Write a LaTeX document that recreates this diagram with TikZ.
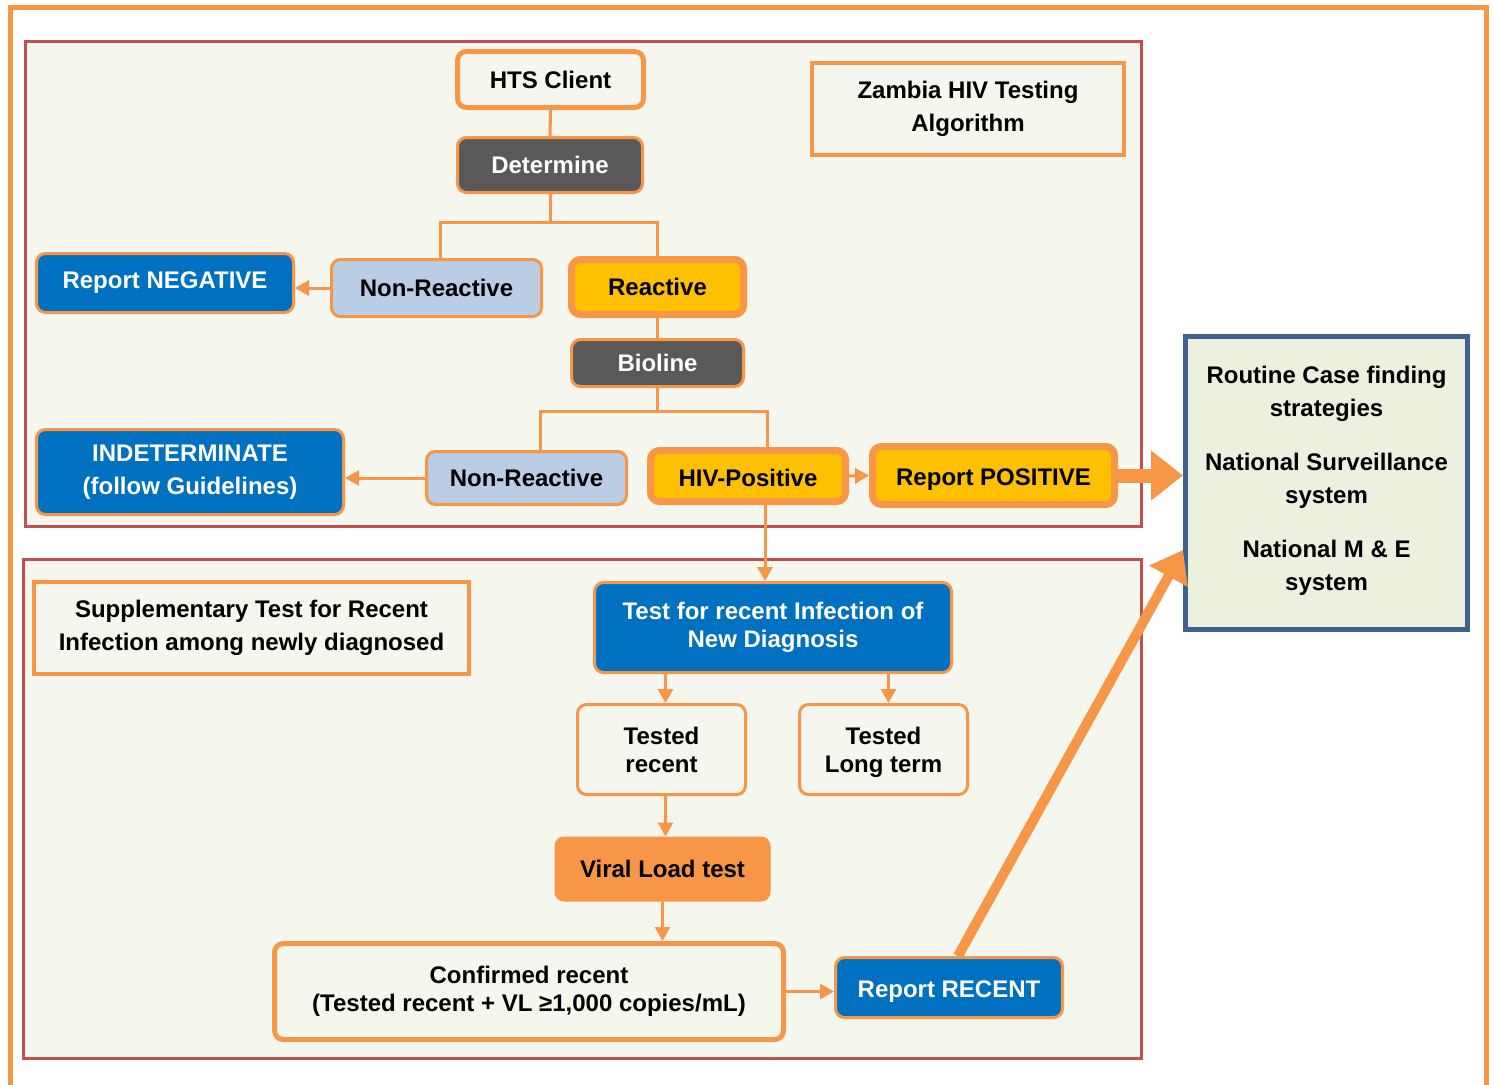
\documentclass[tikz,border=0pt]{standalone}
\usepackage{fontspec}
\setmainfont{Liberation Sans}
\usetikzlibrary{arrows.meta}
\definecolor{org}{HTML}{F79646}
\definecolor{redb}{HTML}{C0504D}
\definecolor{cream}{HTML}{F5F6EE}
\definecolor{blu}{HTML}{0070C0}
\definecolor{gry}{HTML}{595959}
\definecolor{lblu}{HTML}{B9CDE5}
\definecolor{yel}{HTML}{FFC000}
\definecolor{grn}{HTML}{EBF1DE}
\definecolor{dblu}{HTML}{41618F}
\newcommand{\lowtxt}[2]{\raisebox{-#1}[\height][\depth]{#2}}
\tikzset{
  base/.style={rounded corners=9pt, align=center, inner sep=0pt, font=\bfseries\fontsize{24}{33}\selectfont},
  tight/.style={font=\bfseries\fontsize{24}{28}\selectfont},
  whitebox/.style={base, fill=cream, draw=org, line width=4pt},
  greybox/.style={base, fill=gry, draw=org, line width=3pt, text=white},
  bluebox/.style={base, fill=blu, draw=org, line width=3pt, text=white},
  lbbox/.style={base, fill=lblu, draw=org, line width=3pt},
  yelbox/.style={base, fill=yel, draw=org, line width=7pt},
  orbox/.style={base, fill=org, draw=org, line width=1pt},
  labelbox/.style={base, rounded corners=0pt, fill=cream, draw=org, line width=4pt},
  conn/.style={draw=org, line width=3pt},
  arr/.style={conn, -{Triangle[width=15pt,length=14pt]}},
  bigarr/.style={draw=org, line width=14pt, -{Triangle[width=48pt,length=32pt]}},
  diagarr/.style={draw=org, line width=10pt, -{Triangle[width=42pt,length=30pt]}},
}
\begin{document}
\begin{tikzpicture}[x=1pt,y=-1pt]
\useasboundingbox (0,0) rectangle (1495,1084);
\fill[white] (0,0) rectangle (1495,1084);
% outer frame
\draw[org, line width=5pt] (10,1100) -- (10,7.5) -- (1486.5,7.5) -- (1486.5,1100);
% red panels
\draw[redb, line width=3pt, fill=cream] (25.5,41.5) rectangle (1141.5,526.5);
\draw[redb, line width=3pt, fill=cream] (23.5,559.5) rectangle (1141.5,1058.5);

% upper panel nodes
\node[whitebox, line width=5pt, minimum width=186pt, minimum height=56pt] (hts) at (550.5,79.5) {HTS Client};
\node[greybox, minimum width=185pt, minimum height=55pt] (det) at (550,165) {Determine};
\node[bluebox, minimum width=257pt, minimum height=59pt] (rn) at (165,283) {Report NEGATIVE};
\node[lbbox, minimum width=210pt, minimum height=57pt] (nr1) at (436.5,288) {Non-Reactive};
\node[yelbox, minimum width=172pt, minimum height=55pt] (react) at (657.5,287) {Reactive};
\node[greybox, minimum width=172pt, minimum height=47pt] (bio) at (657.5,363) {Bioline};
\node[bluebox, minimum width=307pt, minimum height=85pt] (ind) at (190,472) {INDETERMINATE\\(follow Guidelines)};
\node[lbbox, minimum width=200pt, minimum height=53pt] (nr2) at (526.5,478) {Non-Reactive};
\node[yelbox, minimum width=195pt, minimum height=51pt] (hiv) at (748,476) {\lowtxt{2pt}{HIV-Positive}};
\node[yelbox, minimum width=242pt, minimum height=58pt] (rp) at (993.5,475.5) {\lowtxt{4pt}{Report POSITIVE}};
\node[labelbox, minimum width=312pt, minimum height=92pt] (zam) at (968,109) {Zambia HIV Testing\\Algorithm};

% right box
\node[base, rounded corners=0pt, fill=grn, draw=dblu, line width=5pt, minimum width=282pt, minimum height=293pt] (rb) at (1326.5,483)
  {Routine Case finding\\strategies\\[21pt]National Surveillance\\system\\[21pt]National M \& E\\system\\[-23pt]\mbox{}};

% lower panel nodes
\node[labelbox, minimum width=435pt, minimum height=92pt] (supp) at (251.5,628) {Supplementary Test for Recent\\Infection among newly diagnosed};
\node[bluebox, tight, minimum width=357pt, minimum height=90pt] (test) at (773,627.5) {Test for recent Infection of\\New Diagnosis};
\node[whitebox, tight, line width=3pt, minimum width=168pt, minimum height=90pt] (tr) at (661.5,749.5) {\lowtxt{3pt}{\begin{tabular}{@{}c@{}}Tested\\recent\end{tabular}}};
\node[whitebox, tight, line width=3pt, minimum width=168pt, minimum height=90pt] (tl) at (883.5,749.5) {\lowtxt{3pt}{\begin{tabular}{@{}c@{}}Tested\\Long term\end{tabular}}};
\node[orbox, minimum width=215pt, minimum height=64pt] (vl) at (662.5,869) {Viral Load test};
\node[whitebox, tight, line width=5pt, minimum width=509pt, minimum height=96pt] (conf) at (529,991.5) {Confirmed recent\\(Tested recent + VL ≥1,000 copies/mL)};
\node[bluebox, minimum width=227pt, minimum height=60pt] (rr) at (949,987.5) {\lowtxt{4pt}{Report RECENT}};

% connectors upper
\draw[conn] (hts.south) -- (det.north);
\draw[conn] (det.south) -- ++(0,28) -| ([xshift=4pt]nr1.north);
\draw[conn] (det.south) -- ++(0,28) -| (react.north);
\draw[arr] (nr1.west) -- (nr1.west -| rn.east);
\draw[conn] (react.south) -- (bio.north);
\draw[conn] (bio.south) -- ++(0,23) -| ([xshift=14pt]nr2.north);
\draw[conn] (bio.south) -- ++(0,23) -| ([xshift=19pt]hiv.north);
\draw[arr] (nr2.west) -- (nr2.west -| ind.east);
\draw[arr] (hiv.east) -- (rp.west);
\draw[bigarr] (rp.east) -- (rp.east -| rb.west);

% connectors lower
\draw[arr] ([xshift=17pt]hiv.south) -- ([xshift=17pt]hiv.south |- test.north);
\draw[arr] ([xshift=4pt]tr.north |- test.south) -- ([xshift=4pt]tr.north);
\draw[arr] ([xshift=5pt]tl.north |- test.south) -- ([xshift=5pt]tl.north);
\draw[arr] ([xshift=4pt]tr.south) -- ([xshift=4pt]tr.south |- vl.north);
\draw[arr] (vl.south) -- (vl.south |- conf.north);
\draw[arr] (conf.east) -- (conf.east -| rr.west);
\draw[diagarr] ([xshift=9pt]rr.north) -- ([yshift=82pt]rb.south west);
\end{tikzpicture}
\end{document}
